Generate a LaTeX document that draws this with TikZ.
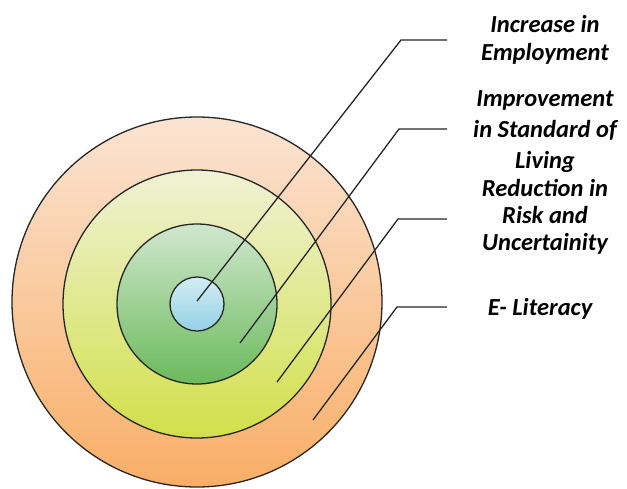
\documentclass[tikz,border=0pt]{standalone}
\usepackage{fontspec}
\setmainfont{Carlito}
\begin{document}
\begin{tikzpicture}[x=1pt,y=-1pt,
  ring/.style={draw=black!85,line width=1.3pt,shading=axis,shading angle=0},
  leader/.style={draw=black!85,line width=1.3pt},
  label/.style={font=\fontsize{24.5}{28}\selectfont\bfseries\itshape,align=center,anchor=base,inner sep=0pt}]
\useasboundingbox (0,0) rectangle (627,488);
\definecolor{orTop}{HTML}{FBE4D3}\definecolor{orBot}{HTML}{F9AE66}
\definecolor{ylTop}{HTML}{EFF2D4}\definecolor{ylBot}{HTML}{D2DF4A}
\definecolor{gnTop}{HTML}{D0E7CE}\definecolor{gnBot}{HTML}{6BBA5C}
\definecolor{blTop}{HTML}{D3EDF3}\definecolor{blBot}{HTML}{94D1E6}
% concentric rings, outermost first
\path[ring,top color=orTop,bottom color=orBot] (197,302) circle[radius=185];
\path[ring,top color=ylTop,bottom color=ylBot] (197,304) circle[radius=134];
\path[ring,top color=gnTop,bottom color=gnBot] (197,304) circle[radius=80];
\path[ring,top color=blTop,bottom color=blBot] (197,304) circle[radius=27];
% leader end points
\coordinate (p1) at (197,301);
\coordinate (p2) at (240,343);
\coordinate (p3) at (277,382);
\coordinate (p4) at (313,420);
\coordinate (k1) at (401,40);
\coordinate (k2) at (399,129);
\coordinate (k3) at (398,219);
\coordinate (k4) at (397,307);
\coordinate (e1) at (447,40);
\coordinate (e2) at (447,129);
\coordinate (e3) at (447,219);
\coordinate (e4) at (447,307);
\draw[leader] (p1) -- (k1) -- (e1);
\draw[leader] (p2) -- (k2) -- (e2);
\draw[leader] (p3) -- (k3) -- (e3);
\draw[leader] (p4) -- (k4) -- (e4);
% labels (anchored on the baseline of their last line)
\node[label] (t1) at (545,60) {Increase in\\Employment};
\node[label,font=\fontsize{24.5}{31}\selectfont\bfseries\itshape] (t2) at (545,168) {Improvement\\in Standard of\\Living};
\node[label,font=\fontsize{24.5}{27}\selectfont\bfseries\itshape] (t3) at (545,250) {Reduction in\\Risk and\\Uncertainity};
\node[label] (t4) at (540,315) {E- Literacy};
\end{tikzpicture}
\end{document}
